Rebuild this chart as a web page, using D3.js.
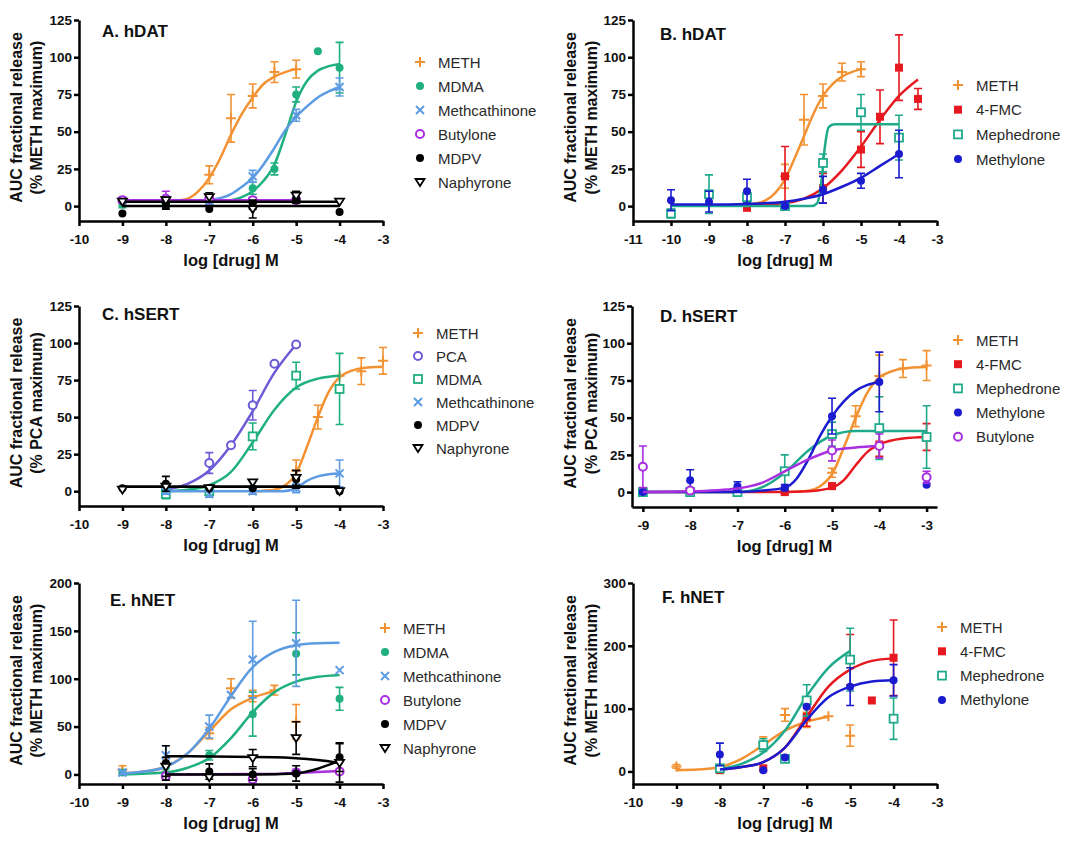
<!DOCTYPE html>
<html>
<head>
<script src="https://d3js.org/d3.v7.min.js"></script>
<style>
  body { margin: 0; background: #fff; }
  .axis path, .axis line { stroke: #000; stroke-width: 2.5px; fill: none; }
  .axis text { font-family: "Liberation Sans", Arial, sans-serif; font-weight: bold; font-size: 13.5px; fill: #111; }
  .ttl { font-family: "Liberation Sans", Arial, sans-serif; font-weight: bold; fill: #111; }
  .leg { font-family: "Liberation Sans", Arial, sans-serif; font-size: 15px; fill: #2a2a2a; }
</style>
</head>
<body>
<script>
// ---- data: [log M, % response, SEM] and fitted curve points [log M, %] ----
// A. hDAT
const aMETH = [[-7,21,6],[-6.5,59,16],[-6,74,8],[-5.5,90,7],[-5,92,6]];
const aMETHfit = [[-8,3],[-7.5,5],[-7.25,10],[-7,19],[-6.75,32],[-6.5,48],[-6.25,62],[-6,73],[-5.75,82],[-5.5,87],[-5.25,90],[-5,92]];
const aMDMA = [[-9,1,2],[-8,1,1],[-7,2,1],[-6,12,4],[-5.5,25,4],[-5,75,5],[-4.5,104,0],[-4,93,17]];
const aMDMAfit = [[-9,3],[-7,3],[-6.5,4],[-6.25,6],[-6,10],[-5.75,17],[-5.5,28],[-5.25,48],[-5,70],[-4.75,84],[-4.5,91],[-4.25,94],[-4,95.5]];
const aMCAT = [[-7,3,2],[-6,20,4],[-5,61,4],[-4,80,6]];
const aMCATfit = [[-7.5,3],[-7,4],[-6.5,8],[-6.25,13],[-6,19],[-5.75,28],[-5.5,39],[-5.25,51],[-5,60],[-4.75,67],[-4.5,73],[-4.25,77],[-4,80]];
const aBUT = [[-9,4,2],[-8,5,5],[-7,5,2],[-6,4,2],[-5,4,2]];
const aBUTfit = [[-9,4],[-5,4]];
const aMDPV = [[-9,-5,0],[-8,0,2],[-7,-2,0],[-6,0,2],[-5,5,3],[-4,-4,0]];
const aMDPVfit = [[-9,0],[-4,0]];
const aNAPH = [[-9,3,0],[-8,4,2],[-7,6,3],[-6,-2,6],[-5,7,3],[-4,3,0]];
const aNAPHfit = [[-9,3],[-4,3]];

// B. hDAT
const bMETH = [[-8,0,2],[-7,20,8],[-6.5,58,17],[-6,74,8],[-5.5,90,6],[-5,92,5]];
const bMETHfit = [[-8,1],[-7.5,4],[-7.25,9],[-7,18],[-6.75,32],[-6.5,47],[-6.25,62],[-6,74],[-5.75,82],[-5.5,87],[-5.25,90],[-5,92]];
const b4FMC = [[-8,-1,2],[-7,20,20],[-6,12,10],[-5,38,12],[-4.5,60,18],[-4,93,22],[-3.5,72,7]];
const b4FMCfit = [[-8,0.5],[-7,2],[-6.5,5],[-6,12],[-5.5,24],[-5,40],[-4.5,58],[-4,74],[-3.5,85]];
const bMEPH = [[-10,-5,3],[-9,8,13],[-8,6,4],[-7,0,1],[-6,29,6],[-5,63,12],[-4,46,15]];
const bMEPHfit = [[-10,0],[-6.3,0],[-6.15,2],[-6.05,15],[-5.95,40],[-5.85,53],[-5.7,55],[-4,55]];
const bMETY = [[-10,4,7],[-9,3,7],[-8,10,8],[-7,0,1],[-6,11,9],[-5,17,5],[-4,35,16]];
const bMETYfit = [[-10,1],[-9,1],[-8,1.5],[-7,3],[-6.5,5],[-6,8],[-5.5,13],[-5,19],[-4.5,27],[-4,35]];

// C. hSERT
const cMETH = [[-5,14,7],[-4.5,50,8],[-4,78,0],[-3.5,81,9],[-3,88,9]];
const cMETHfit = [[-6,0],[-5.5,1],[-5.25,4],[-5,12],[-4.75,30],[-4.5,50],[-4.25,67],[-4,77],[-3.75,81],[-3.5,83],[-3,84]];
const cPCA = [[-8,1,0],[-7,19,7],[-6.5,31,0],[-6,58,10],[-5.5,86,0],[-5,99,0]];
const cPCAfit = [[-8,1],[-7.5,5],[-7,14],[-6.5,31],[-6,54],[-5.5,80],[-5,99]];
const cMDMA = [[-8,-2,3],[-7,0,2],[-6,37,9],[-5,78,9],[-4,69,24]];
const cMDMAfit = [[-8,0],[-7.5,1],[-7,4],[-6.5,13],[-6,33],[-5.5,55],[-5,70],[-4.5,76],[-4,78]];
const cMCAT = [[-8,0,2],[-7,-2,2],[-6,0,2],[-5,2,3],[-4,12,9]];
const cMCATfit = [[-8,0],[-5.3,0],[-5,2],[-4.75,7],[-4.5,10],[-4.25,11.5],[-4,12]];
const cMDPV = [[-9,2,0],[-8,5,5],[-7,2,0],[-6,2,0],[-5,8,6],[-4,0,0]];
const cMDPVfit = [[-9,3],[-4,3]];
const cNAPH = [[-9,1,0],[-8,3,0],[-7,2,0],[-6,6,0],[-5,9,5],[-4,0,0]];
const cNAPHfit = [[-9,3],[-4,3]];

// D. hSERT
const dMETH = [[-5,13,3],[-4.5,51,7],[-4,78,14],[-3.5,83,6],[-3,85,10]];
const dMETHfit = [[-6,0],[-5.5,1],[-5.25,4],[-5,12],[-4.75,30],[-4.5,50],[-4.25,67],[-4,77],[-3.75,81],[-3.5,83],[-3,84]];
const d4FMC = [[-9,0,0],[-8,0,0],[-7,0,0],[-6,0,1],[-5,4,2],[-4,32,8],[-3,37,9]];
const d4FMCfit = [[-9,0],[-6,0],[-5.5,0.5],[-5,3],[-4.75,8],[-4.5,18],[-4.25,27],[-4,32],[-3.5,36],[-3,37]];
const dMEPH = [[-9,0,0],[-8,0,0],[-7,0,0],[-6,14,11],[-5,39,8],[-4,43,21],[-3,37,21]];
const dMEPHfit = [[-9,0],[-7,0],[-6.5,3],[-6,13],[-5.5,28],[-5,38],[-4.5,41],[-4,41],[-3,41]];
const dMETY = [[-9,0,1],[-8,8,7],[-7,4,3],[-6,3,2],[-5,51,12],[-4,74,20],[-3,5,0]];
const dMETYfit = [[-9,0],[-7,0],[-6.5,1],[-6,3],[-5.75,9],[-5.5,22],[-5.25,38],[-5,51],[-4.75,61],[-4.5,68],[-4.25,72],[-4,74]];
const dBUT = [[-9,17,14],[-8,1,0],[-5,28,7],[-4,31,8],[-3,10,4]];
const dBUTfit = [[-9,0],[-8,0.5],[-7,2.5],[-6.5,6],[-6,14],[-5.5,22],[-5,28],[-4.5,30],[-4,31]];

// E. hNET
const eMETH = [[-9,5,4],[-8,10,7],[-7,43,6],[-6.5,90,10],[-6,82,6],[-5.5,88,5],[-5,55,18]];
const eMETHfit = [[-9,1],[-8.5,3],[-8,8],[-7.5,22],[-7,45],[-6.5,68],[-6,80],[-5.5,87]];
const eMDMA = [[-9,2,0],[-8,8,5],[-7,20,5],[-6,63,23],[-5,126,22],[-4,79,12]];
const eMDMAfit = [[-9,0],[-8,2],[-7.5,7],[-7,17],[-6.5,38],[-6,65],[-5.5,86],[-5,97],[-4.5,102],[-4,104]];
const eMCAT = [[-9,2,2],[-8,20,10],[-7,50,12],[-6.5,83,0],[-6,120,40],[-5,137,45],[-4,109,0]];
const eMCATfit = [[-9,1],[-8.5,3],[-8,8],[-7.5,22],[-7,48],[-6.5,82],[-6,112],[-5.5,128],[-5,135],[-4.5,137],[-4,137.5]];
const eBUT = [[-8,-2,3],[-6,-5,3],[-5,2,3],[-4,3,2]];
const eBUTfit = [[-8,0],[-5.5,0.5],[-5,1.5],[-4.5,2.5],[-4,3.5]];
const eMDPV = [[-8,12,18],[-7,3,8],[-6,0,6],[-5,1,8],[-4,18,15]];
const eMDPVfit = [[-8,0],[-6,0],[-5,1],[-4.75,3],[-4.5,6],[-4.25,10],[-4,14]];
const eNAPH = [[-8,8,10],[-7,-3,0],[-6,17,9],[-5,38,17],[-4,12,20]];
const eNAPHfit = [[-8,19],[-5.5,18],[-5,17],[-4.5,15],[-4,12]];

// F. hNET
const fMETH = [[-9,8,3],[-8,5,3],[-7,45,10],[-6.5,90,10],[-6,82,12],[-5.5,88,0],[-5,57,17]];
const fMETHfit = [[-9,2],[-8.5,3],[-8,7],[-7.5,20],[-7,42],[-6.5,65],[-6,79],[-5.5,87]];
const f4FMC = [[-8,2,0],[-7,5,0],[-6,87,15],[-5,178,40],[-4.5,113,0],[-4,181,60]];
const f4FMCfit = [[-8,3],[-7.5,7],[-7,15],[-6.5,38],[-6,87],[-5.5,135],[-5,162],[-4.5,176],[-4,180]];
const fMEPH = [[-8,5,5],[-7,42,10],[-6.5,20,0],[-6,113,25],[-5,178,50],[-4,84,33]];
const fMEPHfit = [[-8,4],[-7.5,12],[-7,30],[-6.5,65],[-6,120],[-5.5,165],[-5,192]];
const fMETY = [[-8,27,18],[-7,2,0],[-6.5,22,0],[-6,103,0],[-5,135,30],[-4,145,25]];
const fMETYfit = [[-8,3],[-7.5,7],[-7,15],[-6.5,38],[-6,82],[-5.5,118],[-5,135],[-4.5,143],[-4,145]];

// ticks
const xTicks10 = [-10,-9,-8,-7,-6,-5,-4,-3];
const xTicks11 = [-11,-10,-9,-8,-7,-6,-5,-4,-3];
const xTicks9 = [-9,-8,-7,-6,-5,-4,-3];
const yTicks125 = [0,25,50,75,100,125];
const yTicks200 = [0,50,100,150,200];
const yTicks300 = [0,100,200,300];

// colours
const cOrange = "#f39233", cGreen = "#1fb07e", cLBlue = "#5d9be3", cPurple = "#a82ee0",
      cPCAc = "#6b5bd6", cRed = "#e5191f", cTeal = "#20aa8c", cBlue = "#1b1bd0", cBlack = "#000";

const panels = [
  { title: "A. hDAT", ylab: "(% METH maximum)", l: 79, r: 383, t: 20, b: 221, xd: [-10,-3], yd: [-10,125],
    xt: xTicks10, yt: yTicks125, tx: 102, ty: 37, yl1: 16, yl2: 36, lx: 420, ly: 62, ldy: 24,
    series: [
      ["METH", cOrange, "plus", aMETH, aMETHfit],
      ["MDMA", cGreen, "dot", aMDMA, aMDMAfit],
      ["Methcathinone", cLBlue, "x", aMCAT, aMCATfit],
      ["Butylone", cPurple, "ocircle", aBUT, aBUTfit],
      ["MDPV", cBlack, "dot", aMDPV, aMDPVfit],
      ["Naphyrone", cBlack, "tri", aNAPH, aNAPHfit]] },
  { title: "B. hDAT", ylab: "(% METH maximum)", l: 633, r: 937, t: 20, b: 221, xd: [-11,-3], yd: [-10,125],
    xt: xTicks11, yt: yTicks125, tx: 660, ty: 40, yl1: 570, yl2: 591, lx: 958, ly: 85, ldy: 24.7,
    series: [
      ["METH", cOrange, "plus", bMETH, bMETHfit],
      ["4-FMC", cRed, "square", b4FMC, b4FMCfit],
      ["Mephedrone", cTeal, "osquare", bMEPH, bMEPHfit],
      ["Methylone", cBlue, "dot", bMETY, bMETYfit]] },
  { title: "C. hSERT", ylab: "(% PCA maximum)", l: 79, r: 383, t: 306, b: 506, xd: [-10,-3], yd: [-10,125],
    xt: xTicks10, yt: yTicks125, tx: 102, ty: 320, yl1: 16, yl2: 36, lx: 418, ly: 333, ldy: 23,
    series: [
      ["METH", cOrange, "plus", cMETH, cMETHfit],
      ["PCA", cPCAc, "ocircle", cPCA, cPCAfit],
      ["MDMA", cGreen, "osquare", cMDMA, cMDMAfit],
      ["Methcathinone", cLBlue, "x", cMCAT, cMCATfit],
      ["MDPV", cBlack, "dot", cMDPV, cMDPVfit],
      ["Naphyrone", cBlack, "tri", cNAPH, cNAPHfit]] },
  { title: "D. hSERT", ylab: "(% PCA maximum)", l: 632, r: 937, t: 306, b: 507, xd: [-9.23,-2.78], yd: [-10,125],
    xt: xTicks9, yt: yTicks125, tx: 660, ty: 322, yl1: 570, yl2: 591, lx: 958, ly: 340, ldy: 24.2,
    series: [
      ["METH", cOrange, "plus", dMETH, dMETHfit],
      ["4-FMC", cRed, "square", d4FMC, d4FMCfit],
      ["Mephedrone", cTeal, "osquare", dMEPH, dMEPHfit],
      ["Methylone", cBlue, "dot", dMETY, dMETYfit],
      ["Butylone", cPurple, "ocircle", dBUT, dBUTfit]] },
  { title: "E. hNET", ylab: "(% METH maximum)", l: 79, r: 383, t: 583, b: 784, xd: [-10,-3], yd: [-10,200],
    xt: xTicks10, yt: yTicks200, tx: 110, ty: 606, yl1: 16, yl2: 36, lx: 385, ly: 628, ldy: 24,
    series: [
      ["METH", cOrange, "plus", eMETH, eMETHfit],
      ["MDMA", cGreen, "dot", eMDMA, eMDMAfit],
      ["Methcathinone", cLBlue, "x", eMCAT, eMCATfit],
      ["Butylone", cPurple, "ocircle", eBUT, eBUTfit],
      ["MDPV", cBlack, "dot", eMDPV, eMDPVfit],
      ["Naphyrone", cBlack, "tri", eNAPH, eNAPHfit]] },
  { title: "F. hNET", ylab: "(% METH maximum)", l: 633, r: 937, t: 583, b: 784, xd: [-10,-3], yd: [-20,300],
    xt: xTicks10, yt: yTicks300, tx: 662, ty: 603, yl1: 570, yl2: 591, lx: 942, ly: 627, ldy: 24.3,
    series: [
      ["METH", cOrange, "plus", fMETH, fMETHfit],
      ["4-FMC", cRed, "square", f4FMC, f4FMCfit],
      ["Mephedrone", cTeal, "osquare", fMEPH, fMEPHfit],
      ["Methylone", cBlue, "dot", fMETY, fMETYfit]] }
];

const svg = d3.select('body').append('svg').attr('width', 1076).attr('height', 846);

function marker(g, shape, color, x, y) {
  const s = 4;
  if (shape === "plus") {
    g.append('path').attr('d', `M${x-s-1},${y}H${x+s+1}M${x},${y-s-1}V${y+s+1}`).attr('stroke', color).attr('stroke-width', 2);
  } else if (shape === "x") {
    g.append('path').attr('d', `M${x-s},${y-s}L${x+s},${y+s}M${x-s},${y+s}L${x+s},${y-s}`).attr('stroke', color).attr('stroke-width', 2);
  } else if (shape === "dot") {
    g.append('circle').attr('cx', x).attr('cy', y).attr('r', s).attr('fill', color);
  } else if (shape === "ocircle") {
    g.append('circle').attr('cx', x).attr('cy', y).attr('r', s).attr('fill', '#fff').attr('stroke', color).attr('stroke-width', 2);
  } else if (shape === "square") {
    g.append('rect').attr('x', x-s).attr('y', y-s).attr('width', 2*s).attr('height', 2*s).attr('fill', color);
  } else if (shape === "osquare") {
    g.append('rect').attr('x', x-s).attr('y', y-s).attr('width', 2*s).attr('height', 2*s).attr('fill', '#fff').attr('stroke', color).attr('stroke-width', 1.8);
  } else if (shape === "tri") {
    g.append('path').attr('d', `M${x-s-0.5},${y-s+1}L${x+s+0.5},${y-s+1}L${x},${y+s}Z`).attr('fill', '#fff').attr('stroke', color).attr('stroke-width', 1.8);
  }
}

panels.forEach(p => {
  const x = d3.scaleLinear().domain(p.xd).range([p.l, p.r]);
  const y = d3.scaleLinear().domain(p.yd).range([p.b, p.t]);
  const g = svg.append('g');

  const line = d3.line().x(d => x(d[0])).y(d => y(d[1])).curve(d3.curveMonotoneX);

  p.series.forEach(([name, color, shape, pts, fit]) => {
    g.append('path').datum(fit).attr('d', line).attr('fill', 'none')
      .attr('stroke', color).attr('stroke-width', 2.5);
    pts.filter(d => d[2] > 0).forEach(d => {
      const px = x(d[0]), y1 = y(d[1] + d[2]), y2 = y(d[1] - d[2]);
      g.append('path').attr('d', `M${px},${y1}V${y2}M${px-4},${y1}H${px+4}M${px-4},${y2}H${px+4}`)
        .attr('stroke', color).attr('stroke-width', 1.6).attr('fill', 'none');
    });
    pts.forEach(d => marker(g, shape, color, x(d[0]), y(d[1])));
  });

  g.append('g').attr('class', 'axis').attr('transform', `translate(0,${p.b})`)
    .call(d3.axisBottom(x).tickValues(p.xt).tickSize(5).tickSizeOuter(0).tickPadding(8).tickFormat(d => String(d)));
  g.append('g').attr('class', 'axis').attr('transform', `translate(${p.l},0)`)
    .call(d3.axisLeft(y).tickValues(p.yt).tickSize(5).tickSizeOuter(0).tickPadding(2).tickFormat(d => String(d)));

  g.append('text').attr('class', 'ttl').attr('x', p.tx).attr('y', p.ty).attr('font-size', 17).text(p.title);
  g.append('text').attr('class', 'ttl').attr('x', (p.l + p.r) / 2).attr('y', p.b + 45)
    .attr('text-anchor', 'middle').attr('font-size', 16.5).text('log [drug] M');

  const yc = (p.t + p.b) / 2 - 3;
  [["AUC fractional release", p.yl1], [p.ylab, p.yl2]].forEach(([txt, xx]) => {
    g.append('text').attr('class', 'ttl').attr('font-size', 16)
      .attr('transform', `translate(${xx},${yc}) rotate(-90)`)
      .attr('text-anchor', 'middle').attr('dominant-baseline', 'central').text(txt);
  });

  p.series.forEach(([name, color, shape], i) => {
    const ly = p.ly + i * p.ldy;
    marker(g, shape, color, p.lx, ly);
    g.append('text').attr('class', 'leg').attr('x', p.lx + 18).attr('y', ly)
      .attr('dominant-baseline', 'central').text(name);
  });
});
</script>
</body>
</html>
